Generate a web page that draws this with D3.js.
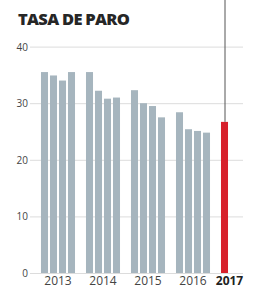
<!DOCTYPE html>
<html>
<head>
<meta charset="utf-8">
<script src="https://cdn.jsdelivr.net/npm/d3@7"></script>
<style>
    body { margin: 0; background: #fff; }
    text { font-family: "Open Sans", sans-serif; }
</style>
</head>
<body>
<div id="chart"></div>
<script>
const years = ["2013", "2014", "2015", "2016", "2017"];
const quarters = ["T1", "T2", "T3", "T4"];
const rate2013 = [35.5, 34.9, 34.0, 35.5];
const rate2014 = [35.5, 32.2, 30.8, 31.0];
const rate2015 = [32.3, 30.0, 29.5, 27.5];
const rate2016 = [28.4, 25.4, 25.1, 24.8];
const rate2017 = [26.7];
const yTicks = [0, 10, 20, 30, 40];

const rates = [rate2013, rate2014, rate2015, rate2016, rate2017];
const data = years.flatMap((year, i) => rates[i].map((v, j) => ({
    year: year,
    quarter: quarters[j],
    value: v,
    last: year === "2017"
})));

const width = 254;
const height = 291;

const svg = d3.select("#chart")
    .append("svg")
    .attr("width", width)
    .attr("height", height);

const x0 = d3.scaleBand()
    .domain(years)
    .range([40, 265])
    .padding(0);

const x1 = d3.scaleBand()
    .domain(quarters)
    .range([0, 36])
    .paddingInner(0.22)
    .paddingOuter(0.11);

const y = d3.scaleLinear()
    .domain([0, 40])
    .range([273, 46.6]);

// title
svg.append("text")
    .attr("x", 18)
    .attr("y", 25)
    .style("font-size", "16.5px")
    .style("font-weight", "800")
    .style("letter-spacing", "-0.7px")
    .style("fill", "#262626")
    .text("TASA DE PARO");

// grid + y labels
const yAxis = svg.append("g")
    .attr("class", "y-axis")
    .attr("transform", "translate(30,0)")
    .call(d3.axisRight(y).tickValues(yTicks).tickSize(213).tickFormat(d3.format("d")));

yAxis.select(".domain").remove();
yAxis.selectAll(".tick line")
    .attr("stroke", "#dcdcdc")
    .attr("stroke-width", 1);
yAxis.selectAll(".tick text")
    .attr("x", -2)
    .attr("dy", "0.35em")
    .style("text-anchor", "end")
    .style("font-size", "10px")
    .style("fill", "#444");

// bars
svg.selectAll(".bar")
    .data(data)
    .enter()
    .append("rect")
    .attr("class", "bar")
    .attr("x", d => x0(d.year) + x1(d.quarter))
    .attr("y", d => y(d.value))
    .attr("width", x1.bandwidth())
    .attr("height", d => y(0) - y(d.value))
    .attr("fill", d => d.last ? "#d7202b" : "#a6b5be");

// callout line on last bar
const lastBar = data[data.length - 1];
const lineX = x0(lastBar.year) + x1(lastBar.quarter) + x1.bandwidth() / 2 + 0.5;
svg.append("line")
    .attr("x1", lineX)
    .attr("x2", lineX)
    .attr("y1", 0)
    .attr("y2", y(lastBar.value))
    .attr("stroke", "#555")
    .attr("stroke-width", 1);

// year labels
svg.selectAll(".year-label")
    .data(years)
    .enter()
    .append("text")
    .attr("class", "year-label")
    .attr("x", d => d === "2017"
        ? x0(d) + x1("T1") + x1.bandwidth() / 2 + 5
        : x0(d) + x1.range()[1] / 2)
    .attr("y", 285)
    .style("text-anchor", "middle")
    .style("font-size", "12px")
    .style("font-weight", d => d === "2017" ? "700" : "400")
    .style("fill", d => d === "2017" ? "#222" : "#444")
    .text(d => d);
</script>
</body>
</html>
